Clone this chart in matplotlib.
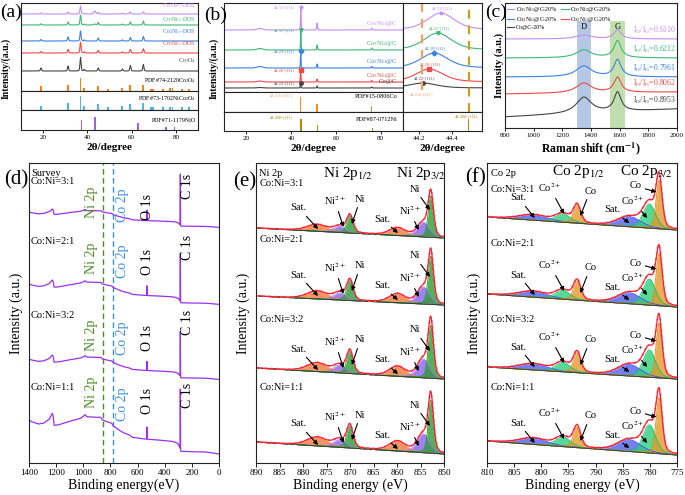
import numpy as np
import matplotlib
matplotlib.use('Agg')
import matplotlib.pyplot as plt

plt.rcParams['font.family'] = ['Liberation Serif', 'DejaVu Serif']
plt.rcParams['mathtext.fontset'] = 'stix'
plt.rcParams['axes.linewidth'] = 0.8
plt.rcParams['axes.edgecolor'] = '#222222'

# ---------------- data ----------------
# (a) XRD of the oxide precursors
a_names = [r'Co$_1$Ni$_1$-DOS', r'Co$_3$Ni$_2$-DOS', r'Co$_2$Ni$_1$-DOS',
           r'Co$_3$Ni$_1$-DOS', r'Co$_3$O$_4$']
a_offset = [77, 66, 50, 38, 20]
spinel_peaks = [19.0, 31.3, 36.9, 38.6, 44.9, 55.8, 59.4, 65.3]
a_peak_height = [
    [1.0, 2.0, 8.0, 0.5, 1.5, 0.8, 2.0, 2.2],
    [1.2, 3.0, 10.0, 0.8, 2.5, 1.0, 3.0, 4.0],
    [1.5, 4.0, 10.0, 1.0, 3.0, 1.2, 3.5, 4.5],
    [1.5, 3.7, 11.0, 1.0, 2.5, 1.2, 3.5, 4.3],
    [3.0, 5.0, 13.5, 1.5, 3.0, 2.0, 5.5, 6.5],
]
a_nio_bump = [3.0, 1.0, 0.0, 0.0, 0.0]   # NiO (200) near 43.3
pdf_spinel_pos = [19.0, 31.3, 36.9, 38.6, 44.9, 49.2, 55.8, 59.4, 65.3,
                  68.7, 69.8, 74.2, 77.4, 78.5, 82.7, 85.8]
pdf_co3o4_int = [5, 6.3, 13.4, 3.4, 5, 2.4, 3.4, 5.7, 5.7, 2.4, 2.4, 2.4, 3.4, 3.4, 2.4, 2.4]
pdf_nico2o4_int = [4, 6.7, 14, 4.3, 5.7, 3.3, 4.3, 5.7, 6.7, 2.7, 2.7, 2.7, 3.3, 3.3, 2.7, 2.7]
pdf_nio_pos = [37.3, 43.3, 62.9, 75.4, 79.4]
pdf_nio_int = [10, 13.3, 7.3, 3.3, 2.7]

# (b) XRD of the carbon composites
b_names = [r'Co$_1$Ni$_1$@C', r'Co$_3$Ni$_2$@C', r'Co$_2$Ni$_1$@C',
           r'Co$_3$Ni$_1$@C', 'Co@C']
b_peak111 = [44.33, 44.31, 44.29, 44.26, 44.22]
b_offset = [62, 42, 24, 10, 4]
b_h111 = [23, 20, 17, 12, 5]
b_h200 = [7, 5, 4, 3, 2]          # near 51.6
b_h220 = [2, 2, 1.5, 1.5, 1]      # near 76.0
b_graphite = [1.5, 1.5, 1.5, 1.0, 0.5]   # near 26
pdf_co_pos = [44.216, 51.52, 75.85]
pdf_co_int = [15, 8, 6]
pdf_ni_pos = [44.498, 51.85, 76.38]
pdf_ni_int = [12, 6, 3]
# zoomed (111) region
bi_offset = [82, 62, 44, 30, 24]
bi_height = [17, 17, 15, 13, 5]

# (c) Raman
c_names = [r'Co$_1$Ni$_1$@C-20%', r'Co$_3$Ni$_2$@C-20%', r'Co$_2$Ni$_1$@C-20%',
           r'Co$_3$Ni$_1$@C-20%', 'Co@C-20%']
raman_base_800 = [89, 70, 51, 34, 11]
raman_base_2000 = [89, 70, 51, 36, 19]
raman_d = [4, 8, 11, 10, 16]
raman_g = [9, 17, 17, 15, 19]
id_ig = ['0.6110', '0.6212', '0.7961', '0.8062', '0.8953']

# (d) XPS survey
ratios = ['Co:Ni=3:1', 'Co:Ni=2:1', 'Co:Ni=3:2', 'Co:Ni=1:1']
survey_E = [1400, 1380, 1330, 1290, 1250, 1228, 1222, 1215, 1180, 1100, 1020, 985, 975,
            900, 870, 858, 820, 790, 778, 740, 700, 660, 640, 600, 545, 533, 531, 529,
            520, 450, 350, 320, 300, 290, 287, 285, 283, 280, 200, 100, 60, 0]
survey_shape = [0, -1.7, -4, -3, 1, 6.7, 4.3, -5.3, -4.7, -1.3, 1.7, 5.3, 3.3,
                2.7, 2.7, 0, -2, -3.3, -6, -9.7, -13, -15, -17.3, -18, -19, -19, -19, -19,
                -19.3, -20, -21.3, -22.3, -24, -27.3, -28, -29, -30, -31.3, -31.7, -32, -32.7, -34]
survey_spike = [0, 0, 0, 0, 0, 0, 0, 0, 0, 0, 0, 0, 0,
                0, 0, 0, 0, 0, 0, 0, 0, 0, 0, 0, 0, 0, 12, 0,
                0, 0, 0, 0, 0, 0, 0, 60, 0, 0, 0, 0, 0, 0]
survey_start = [251, 179, 104, 43]
survey_tilt = [0.45, 0.6, 0.6, 1.0]
survey_spike_scale = [0.85, 0.8, 0.75, 1.0]

# (e) Ni 2p fit components
ni_center = [852.8, 854.4, 859.9, 870.0, 872.2, 877.0]
ni_height = [48, 17, 9, 20, 7, 8]
ni_fwhm = [1.3, 3.0, 4.0, 1.6, 3.0, 5.0]
ni_kind = ['Ni', 'Ni2+', 'Sat', 'Ni', 'Ni2+', 'Sat']
ni_bg_left = [235, 167, 95, 21]
ni_bg_right = [225, 158, 84, 9]
ni_scale = [0.86, 1.0, 1.1, 1.1]

# (f) Co 2p fit components
co_center = [778.3, 780.1, 783.8, 793.4, 796.0, 801.5]
co_height = [52, 26, 11, 19, 9, 6]
co_fwhm = [1.3, 2.7, 5.0, 1.6, 3.2, 6.0]
co_kind = ['Co', 'Co2+', 'Sat', 'Co', 'Co2+', 'Sat']
co_bg_left = [246, 169, 96, 22]
co_bg_right = [233, 156, 84, 8]
co_scale = [0.93, 1.0, 1.05, 1.08]

# ---------------- styles ----------------
five_colors = ['#c48cf6', '#3cb878', '#3b82e0', '#f04848', '#444444']
W, H = 685, 495
fig = plt.figure(figsize=(W / 100, H / 100), dpi=100)


def box(x0, y0, x1, y1):
    return fig.add_axes([x0 / W, 1 - y1 / H, (x1 - x0) / W, (y1 - y0) / H])


def ftext(x, y, s, **kw):
    fig.text(x / W, 1 - y / H, s, **kw)


def pv(x, c, h, w, eta=0.3):
    g = np.exp(-4 * np.log(2) * ((x - c) / w) ** 2)
    lor = 1 / (1 + (2 * (x - c) / w) ** 2)
    return h * ((1 - eta) * g + eta * lor)


def style(ax, xlim, ylim, ticks=None, labels=True, size=5, length=2):
    ax.set_xlim(*xlim)
    ax.set_ylim(*ylim)
    ax.set_yticks([])
    if ticks is not None:
        ax.set_xticks(ticks)
    ax.tick_params(axis='x', labelsize=size, length=length if labels else 0,
                   width=0.6, pad=1.5, labelbottom=labels)


# ---------------- (a) ----------------
tt = np.linspace(10, 90, 4000)
ax_a = box(21, 3, 198, 91)
ax_a2 = box(21, 91, 198, 110)
ax_a3 = box(21, 110, 198, 130)
style(ax_a, (10, 90), (0, 88), labels=False)
style(ax_a2, (10, 90), (0, 19), labels=False)
style(ax_a3, (10, 90), (0, 20), ticks=[20, 40, 60, 80])
a_label_dy = [8, 5, 9, 9, 10]
for name, col, off, hs, nio, dy in zip(a_names, five_colors, a_offset, a_peak_height,
                                       a_nio_bump, a_label_dy):
    y = off + sum(pv(tt, p, h, 0.6) for p, h in zip(spinel_peaks, hs)) + pv(tt, 43.3, nio, 1.0)
    ax_a.plot(tt, y, color=col, lw=0.8)
    ax_a.text(89, off + dy, name, color=col, fontsize=4.3, ha='right', va='center')
ax_a.bar(pdf_spinel_pos, pdf_co3o4_int, width=0.8, color='#ff7f0e')
ax_a.text(89, 10.3, r'PDF#74-2120Co$_3$O$_4$', fontsize=4.3, ha='right', va='center')
ax_a2.bar(pdf_spinel_pos, pdf_nico2o4_int, width=0.8, color='#4fb3f0')
ax_a2.text(89, 11, r'PDF#73-1702NiCo$_2$O$_4$', fontsize=4.3, ha='right', va='center')
ax_a3.bar(pdf_nio_pos, pdf_nio_int, width=0.8, color='#a35ee8')
ax_a3.text(89, 9, 'PDF#71-1179NiO', fontsize=4.3, ha='right', va='center')
ax_a3.set_xlabel('2θ/degree', fontsize=8, fontweight='bold', labelpad=2)
ax_a2.set_ylabel('Intensity/(a.u.)', fontsize=7, fontweight='bold', labelpad=4)
ax_a2.yaxis.set_label_coords(-0.06, 2.2)

# ---------------- (b) ----------------
ax_b = box(224, 3, 403, 92)
ax_b2 = box(224, 92, 403, 112)
ax_b3 = box(224, 112, 403, 131)
ax_bi = box(403, 3, 482, 112)
ax_bi2 = box(403, 112, 482, 131)
style(ax_b, (10, 90), (0, 89), labels=False)
style(ax_b2, (10, 90), (0, 20), labels=False)
style(ax_b3, (10, 90), (0, 19), ticks=[20, 40, 60, 80])
style(ax_bi, (44.1, 44.58), (0, 109), labels=False)
style(ax_bi2, (44.1, 44.58), (0, 19), ticks=[44.2, 44.4])
ax_bi2.set_xticklabels(['44.2', '44.4'])
markers = ['*', 'v', 'D', 's', 'o']
tz = np.linspace(44.1, 44.58, 600)
for i, (name, col) in enumerate(zip(b_names, five_colors)):
    c = b_peak111[i]
    y = (b_offset[i] + pv(tt, c, b_h111[i], 0.3) + pv(tt, 51.6, b_h200[i], 0.4)
         + pv(tt, 76.0, b_h220[i], 0.5) + pv(tt, 26.0, b_graphite[i], 3.0))
    ax_b.plot(tt, y, color=col, lw=0.8)
    top = b_offset[i] + b_h111[i]
    ax_b.plot([c], [top], marker=markers[i], color=col, ms=2.5)
    ax_b.text(41.8, top, f'{c:.2f}°(111)', color=col, fontsize=3.2, ha='right', va='center')
    ax_b.text(87.5, b_offset[i] + 6, name, color=col, fontsize=4.8, ha='right', va='center')
    yi = bi_offset[i] + pv(tz, c, bi_height[i], 0.2, eta=0.5)
    ax_bi.plot(tz, yi, color=col, lw=0.8)
    ax_bi.plot([c], [bi_offset[i] + bi_height[i]], marker=markers[i], color=col, ms=2.5)
    ax_bi.text(c + 0.01, bi_offset[i] + bi_height[i] + 4.5, f'{c:.2f}°(111)', color=col,
               fontsize=3.2, ha='center', va='center')
ax_b2.bar(pdf_co_pos, pdf_co_int, width=0.7, color='#ff8c1a')
ax_b2.text(40.8, 17, '44.216°(111)', color='#f5a060', fontsize=3.2, ha='right', va='center')
ax_b2.text(87.5, 16, 'PDF#15-0806Co', fontsize=4.5, ha='right', va='center')
ax_b3.bar(pdf_ni_pos, pdf_ni_int, width=0.7, color='#b8860b')
ax_b3.text(40.8, 14, '44.498°(111)', color='#b8860b', fontsize=3.2, ha='right', va='center')
ax_b3.text(87.5, 11, 'PDF#87-0712Ni', fontsize=4.5, ha='right', va='center')
ax_bi.bar([pdf_co_pos[0]], [pdf_co_int[0]], width=0.004, color='#ff8c1a')
ax_bi.axvline(pdf_co_pos[0], ymin=0.2, color='#f5a060', lw=1.6, dashes=(4, 3))
ax_bi.axvline(pdf_ni_pos[0], color='#c8a020', lw=1.6, dashes=(4, 3))
ax_bi.text(pdf_co_pos[0], 18, '44.216°(111)', color='#f5a060', fontsize=3.2, ha='center', va='center')
ax_bi2.bar([pdf_ni_pos[0]], [pdf_ni_int[0]], width=0.004, color='#b8860b')
ax_bi2.text(pdf_ni_pos[0] - 0.01, 15, '44.498°(111)', color='#b8860b', fontsize=3.2, ha='center', va='center')
ax_b3.set_xlabel('2θ/degree', fontsize=8, fontweight='bold', labelpad=2)
ax_bi2.set_xlabel('2θ/degree', fontsize=8, fontweight='bold', labelpad=2)
ax_b2.set_ylabel('Intensity/(a.u.)', fontsize=7, fontweight='bold', labelpad=2)
ax_b2.yaxis.set_label_coords(-0.03, 2.2)

# ---------------- (c) ----------------
ax_c = box(505, 3, 677, 128)
style(ax_c, (800, 2000), (0, 125), ticks=range(800, 2001, 200))
ax_c.axvspan(1300, 1400, ymax=0.86, color='#9fb6e0', alpha=0.75, lw=0)
ax_c.axvspan(1535, 1635, ymax=0.86, color='#b2d89a', alpha=0.8, lw=0)
ax_c.text(1350, 101, 'D', fontsize=6, ha='center', va='center')
ax_c.text(1585, 101, 'G', fontsize=6, ha='center', va='center')
ww = np.linspace(800, 2000, 1200)
lines = []
for i, (name, col) in enumerate(zip(c_names, five_colors)):
    base = raman_base_800[i] + (raman_base_2000[i] - raman_base_800[i]) * (ww - 800) / 1200
    y = base + pv(ww, 1350, raman_d[i], 130, eta=1) + pv(ww, 1585, raman_g[i], 60, eta=1)
    ln, = ax_c.plot(ww, y, color=col, lw=0.8, label=name)
    lines.append(ln)
    ax_c.text(1990, raman_base_2000[i] + 9, r'I$_\mathrm{D}$/I$_\mathrm{G}$=' + id_ig[i],
              color=col, fontsize=5.5, ha='right', va='center')
order = [0, 2, 4, 1, 3]
ax_c.legend([lines[k] for k in order], [c_names[k] for k in order], ncol=2, loc='upper left',
            fontsize=4.2, frameon=False, handlelength=1.3, columnspacing=0.6,
            labelspacing=0.2, borderaxespad=0.1, handletextpad=0.3, borderpad=0.2)
ax_c.set_xlabel(r'Raman shift (cm$^{\mathbf{-1}}$)', fontsize=8.5, fontweight='bold', labelpad=2)
ax_c.set_ylabel('Intensity (a.u.)', fontsize=7.5, fontweight='bold', labelpad=1)

# ---------------- (d) ----------------
ax_d = box(29, 163, 219, 463)
style(ax_d, (1400, 0), (0, 300), ticks=range(1400, -1, -200), size=6.5, length=3)
sE = np.array(survey_E, dtype=float)
ax_d.axvline(852, color='#4b8a23', lw=1.0, dashes=(4, 2.5))
ax_d.axvline(779, color='#3d8fd8', lw=1.0, dashes=(4, 2.5))
text_y = [[261, 258, 256, 277], [205, 202, 201, 216], [128, 125, 125, 141], [71, 59, 62, 68]]
label_y = [281, 221, 148, 76]
for i in range(4):
    y = (survey_start[i] + survey_tilt[i] * np.array(survey_shape)
         + survey_spike_scale[i] * np.array(survey_spike))
    ax_d.plot(sE, y, color='#9b30f0', lw=0.9)
    ty = text_y[i]
    ax_d.text(936, ty[0], 'Ni 2p', color='#4b8a23', rotation=90, fontsize=10, ha='center', va='center')
    ax_d.text(711, ty[1], 'Co 2p', color='#3d8fd8', rotation=90, fontsize=10, ha='center', va='center')
    ax_d.text(527, ty[2], 'O 1s', color='k', rotation=90, fontsize=10, ha='center', va='center')
    ax_d.text(232, ty[3], 'C 1s', color='k', rotation=90, fontsize=10, ha='center', va='center')
    ax_d.text(1385, label_y[i], ratios[i], fontsize=7.5, ha='left', va='center')
ax_d.text(1385, 290, 'Survey', fontsize=7.5, ha='left', va='center')
ax_d.set_xlabel('Binding energy(eV)', fontsize=10, labelpad=1)
ax_d.set_ylabel('Intensity (a.u.)', fontsize=10, labelpad=4)


# ---------------- (e) and (f) ----------------
def xps_panel(ax, lo, hi, centers, heights, fwhms, kinds, bgl, bgr, scales, fills, edges, ann):
    E = np.linspace(lo, hi, 900)
    for b in range(4):
        bg = bgr[b] + (bgl[b] - bgr[b]) * (E - lo) / (hi - lo)
        comps = [pv(E, c, h * scales[b], w) for c, h, w in zip(centers, heights, fwhms)]
        env = bg + sum(comps)
        for kind in ('Sat', kinds[1], kinds[0]):
            for comp, k in zip(comps, kinds):
                if k == kind:
                    ax.fill_between(E, bg, bg + comp, color=fills[k], alpha=0.8, lw=0)
                    ax.plot(E, bg + comp, color=edges[k], lw=0.6)
        ax.plot(E, bg, color='#333333', lw=0.6)
        ax.plot(E, env, color='#e58ee8', lw=1.6, ls=':')
        ax.plot(E, env, color='#ff1f1f', lw=0.9)
        for s, tx, ty, ax_, ay in ann:
            ax.annotate(s, xy=(ax_, bgr[b] + ay), xytext=(tx, bgr[b] + ty), fontsize=7.5,
                        ha='center', va='center',
                        arrowprops=dict(arrowstyle='-|>', color='k', lw=0.8,
                                        mutation_scale=6, shrinkA=1, shrinkB=0))


ax_e = box(256, 163, 444, 463)
style(ax_e, (890, 850), (0, 300), ticks=range(890, 849, -5), size=6.5, length=3)
ni_fills = {'Ni': '#2e9a35', 'Ni2+': '#8a62ee', 'Sat': '#f27a3a'}
ni_edges = {'Ni': '#18a018', 'Ni2+': '#9c7cf2', 'Sat': '#f08a40'}
ni_ann = [('Sat.', 880.9, 30, 876.8, 9), (r'Ni$^{2+}$', 873.2, 37, 871.4, 11),
          ('Ni', 867.8, 39, 869.6, 14), ('Sat.', 863.2, 19, 859.8, 5),
          (r'Ni$^{2+}$', 857.3, 27, 855.4, 8), ('Ni', 856.2, 49, 853.0, 28)]
xps_panel(ax_e, 850, 890, ni_center, ni_height, ni_fwhm, ni_kind, ni_bg_left, ni_bg_right,
          ni_scale, ni_fills, ni_edges, ni_ann)
ax_e.text(889.3, 290, 'Ni 2p', fontsize=7.5, ha='left', va='center')
for i, y in enumerate([280, 223, 144, 75]):
    ax_e.text(889.3, y, ratios[i], fontsize=7.5, ha='left', va='center')
ax_e.text(870.4, 290, r'Ni 2p$_{1/2}$', fontsize=11, ha='center', va='center')
ax_e.text(855.0, 290, r'Ni 2p$_{3/2}$', fontsize=11, ha='center', va='center')
ax_e.set_xlabel('Binding energy (eV)', fontsize=10, labelpad=1)
ax_e.set_ylabel('Intensity (a.u.)', fontsize=10, labelpad=4)

ax_f = box(487, 163, 677, 463)
style(ax_f, (810, 775), (0, 300), ticks=range(810, 774, -5), size=6.5, length=3)
co_fills = {'Co': '#e49a2c', 'Co2+': '#2fcf7c', 'Sat': '#5160ec'}
co_edges = {'Co': '#e08a10', 'Co2+': '#12c070', 'Sat': '#3a50f0'}
co_ann = [('Sat.', 804.2, 32, 801.2, 12), (r'Co$^{2+}$', 798.4, 42, 795.8, 16),
          ('Co', 791.0, 39, 792.8, 14), ('Sat.', 787.0, 20, 783.8, 7),
          (r'Co$^{2+}$', 783.1, 29, 780.5, 12), ('Co', 782.7, 44, 778.8, 38)]
xps_panel(ax_f, 775, 810, co_center, co_height, co_fwhm, co_kind, co_bg_left, co_bg_right,
          co_scale, co_fills, co_edges, co_ann)
ax_f.text(809.3, 290, 'Co 2p', fontsize=7.5, ha='left', va='center')
for i, y in enumerate([273, 220, 144, 76]):
    ax_f.text(809.3, y, ratios[i], fontsize=7.5, ha='left', va='center')
ax_f.text(793.2, 292, r'Co 2p$_{1/2}$', fontsize=11, ha='center', va='center')
ax_f.text(780.7, 292, r'Co 2p$_{3/2}$', fontsize=11, ha='center', va='center')
ax_f.set_xlabel('Binding energy (eV)', fontsize=10, labelpad=1)
ax_f.set_ylabel('Intensity (a.u.)', fontsize=10, labelpad=4)

# panel letters
for s, x, y, fs in [('(a)', 11, 12, 14), ('(b)', 216, 15, 14), ('(c)', 496, 12, 14),
                    ('(d)', 16, 180, 15), ('(e)', 245, 182, 15), ('(f)', 476, 178, 15)]:
    ftext(x, y, s, fontsize=fs, ha='center', va='center')

fig.savefig('out.png', dpi=100)
